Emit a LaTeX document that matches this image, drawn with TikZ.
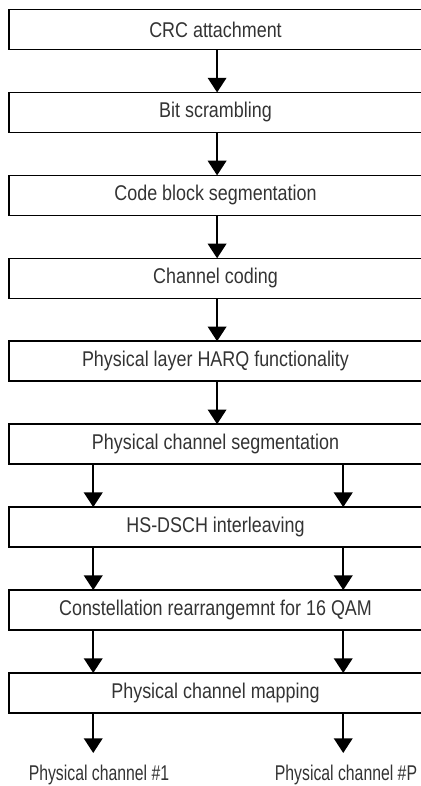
\documentclass[tikz,border=0pt]{standalone}
\usepackage{fontspec}
\setmainfont{Liberation Sans}[FakeStretch=0.84]
\newfontfamily\outfont{Liberation Sans}[FakeStretch=0.74]
\usetikzlibrary{positioning,arrows.meta}

\begin{document}
\begin{tikzpicture}[x=0.75pt,y=-0.75pt,
    every node/.style={font=\fontsize{16}{18}\selectfont,text=black!80},
    stage/.style={draw,line width=1.2pt,minimum width=309.4pt,minimum height=30pt,inner sep=0pt,outer sep=0pt},
    outlabel/.style={font=\outfont\fontsize{16}{18}\selectfont},
    arr/.style={line width=1.2pt,-{Triangle[width=14pt,length=11pt]}},
    node distance=32.2pt]
      \useasboundingbox (0,0) rectangle (421,786);
      % processing chain
      \node[stage] (crc) at (215.5,29.5) {CRC attachment};
      \node[stage, below=of crc] (scr) {Bit scrambling};
      \node[stage, below=of scr] (cbs) {Code block segmentation};
      \node[stage, below=of cbs] (cod) {Channel coding};
      \node[stage, below=of cod] (harq) {Physical layer HARQ functionality};
      \node[stage, below=of harq] (pcs) {Physical channel segmentation};
      \node[stage, below=of pcs] (intl) {HS-DSCH interleaving};
      \node[stage, below=of intl] (qam) {Constellation rearrangemnt for 16 QAM};
      \node[stage, below=of qam] (map) {Physical channel mapping};
      % single stream
      \foreach \a/\b in {crc/scr, scr/cbs, cbs/cod, cod/harq, harq/pcs}
        \draw[arr] ([xshift=1.2pt]\a.south) -- ([xshift=1.2pt]\b.north);
      % per physical channel
      \foreach \a/\b in {pcs/intl, intl/qam, qam/map} {
        \draw[arr] ([xshift=-91.7pt]\a.south) -- ([xshift=-91.7pt]\b.north);
        \draw[arr] ([xshift=95.8pt]\a.south) -- ([xshift=95.8pt]\b.north);
      }
      % outputs
      \coordinate (ch1) at ([xshift=-91.7pt,yshift=-30pt]map.south);
      \coordinate (chP) at ([xshift=95.8pt,yshift=-30pt]map.south);
      \draw[arr] ([xshift=-91.7pt]map.south) -- (ch1);
      \draw[arr] ([xshift=95.8pt]map.south) -- (chP);
      \node[outlabel] (out1) at (99,775) {Physical channel \#1};
      \node[outlabel] (outP) at (346,775) {Physical channel \#P};
\end{tikzpicture}
\end{document}
